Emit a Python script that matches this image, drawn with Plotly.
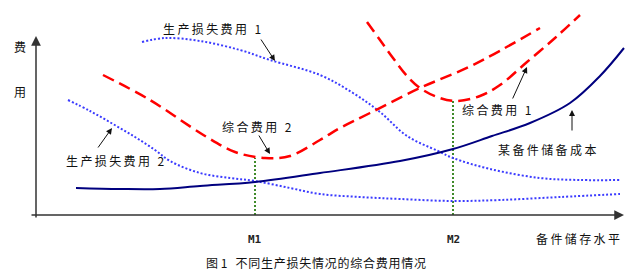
import plotly.graph_objects as go

# Data: x = 备件储存水平 (storage level), y = 费用 (cost), schematic units
cost_x = [40, 84, 124, 164, 219, 284, 364, 417, 456, 494, 534, 564, 588]
cost_y = [27, 26, 26, 29, 33, 42, 54, 66, 79, 92, 112, 139, 167]

loss1_x = [106, 129, 164, 204, 234, 284, 317, 344, 371, 402, 417, 454, 504, 544, 584]
loss1_y = [173, 177, 174, 165, 155, 140, 122, 103, 79, 64, 57, 46, 37, 35, 35]

loss2_x = [32, 54, 77, 99, 119, 134, 164, 194, 219, 254, 284, 324, 364, 417, 464, 524, 584]
loss2_y = [115, 104, 91, 78, 65, 54, 42, 37, 34, 27, 21, 18, 16, 14, 15, 18, 21]

total2_x = [67, 114, 169, 199, 229, 254, 284, 304, 334, 384, 437, 504]
total2_y = [140, 115, 79, 63, 57, 59, 75, 87, 102, 127, 150, 187]

total1_x = [331, 344, 357, 371, 384, 401, 419, 444, 464, 491, 519, 544]
total1_y = [193, 175, 157, 139, 127, 118, 114, 119, 130, 153, 177, 200]

m_labels = ["M1", "M2"]
m_x = [219, 417]
m_top = [57, 115]

FONT = "Noto Sans CJK SC"


def spaced(s, sep="\u2009"):
    return sep.join(list(s))


fig = go.Figure()

# green guide lines
for mx, mt in zip(m_x, m_top):
    fig.add_trace(go.Scatter(x=[mx, mx], y=[0, mt], mode="lines",
                             line=dict(color="#3f8a2a", width=2, dash="2px,2px")))

fig.add_trace(go.Scatter(x=loss1_x, y=loss1_y, mode="lines", line_shape="spline",
                         line=dict(color="#3b3bff", width=2, dash="2px,2px")))
fig.add_trace(go.Scatter(x=loss2_x, y=loss2_y, mode="lines", line_shape="spline",
                         line=dict(color="#3b3bff", width=2, dash="2px,2px")))
fig.add_trace(go.Scatter(x=total2_x, y=total2_y, mode="lines", line_shape="spline",
                         line=dict(color="#ff0000", width=2.5, dash="12px,6px")))
fig.add_trace(go.Scatter(x=total1_x, y=total1_y, mode="lines", line_shape="spline",
                         line=dict(color="#ff0000", width=2.5, dash="12px,6px")))
fig.add_trace(go.Scatter(x=cost_x, y=cost_y, mode="lines", line_shape="spline",
                         line=dict(color="#00007f", width=2)))

ann = []
# axes with arrows
ann.append(dict(x=0, y=179, ax=0, ay=-4, xref="x", yref="y", axref="x", ayref="y",
                text="", showarrow=True, arrowhead=2, arrowsize=1.3, arrowwidth=1.5,
                arrowcolor="#333333"))
ann.append(dict(x=588, y=0, ax=-6, ay=0, xref="x", yref="y", axref="x", ayref="y",
                text="", showarrow=True, arrowhead=2, arrowsize=1.3, arrowwidth=1.5,
                arrowcolor="#333333"))

# pointer arrows: (tip_x, tip_y, tail_x, tail_y)
pointers = [(239, 154, 224, 177), (234, 61, 222, 81), (76, 87, 61, 66),
            (491, 148, 476, 115), (536, 105, 536, 83)]
for tx, ty, sx, sy in pointers:
    ann.append(dict(x=tx, y=ty, ax=sx, ay=sy, xref="x", yref="y", axref="x", ayref="y",
                    text="", showarrow=True, arrowhead=2, arrowsize=1.2, arrowwidth=1,
                    arrowcolor="#111111"))

labels = [("费", -16, 169), ("用", -16, 124), ("生产损失费用 1", 176, 187),
          ("综合费用 2", 221, 89), ("生产损失费用 2", 79, 55), ("综合费用 1", 460, 106),
          ("某备件储备成本", 511, 66), ("备件储存水平", 542, -23)]
for t, x, y in labels:
    ann.append(dict(x=x, y=y, xref="x", yref="y", text=spaced(t), showarrow=False,
                    font=dict(family=FONT, size=12, color="#111111")))
for t, x in zip(m_labels, m_x):
    ann.append(dict(x=x, y=-24, xref="x", yref="y", text="<b>" + t + "</b>", showarrow=False,
                    font=dict(family="DejaVu Sans Mono", size=11, color="#222222")))
ann.append(dict(x=280, y=-47, xref="x", yref="y",
                text="图\u00a01\u00a0\u00a0\u00a0" + spaced("不同生产损失情况的综合费用情况", "\u200a"),
                showarrow=False, font=dict(family=FONT, size=12, color="#111111")))

fig.update_layout(
    width=640, height=272, margin=dict(l=0, r=0, t=0, b=0),
    paper_bgcolor="white", plot_bgcolor="white", showlegend=False,
    xaxis=dict(range=[-36, 604], visible=False),
    yaxis=dict(range=[-57, 215], visible=False),
    annotations=ann,
)
fig.write_html("out.html")
